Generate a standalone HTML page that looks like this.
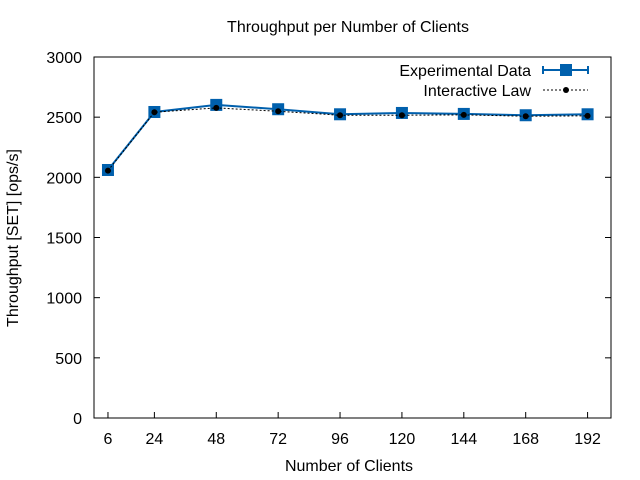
<!DOCTYPE html>
<html><head><meta charset="utf-8"><style>
body{margin:0;background:#fff}
svg{display:block;font-family:"Liberation Sans",sans-serif;font-size:16px}
</style></head><body>
<svg id="chart" width="640" height="480">
<rect width="640" height="480" fill="#fff"/>
<text x="348" y="32" text-anchor="middle">Throughput per Number of Clients</text>
<text x="349" y="471" text-anchor="middle">Number of Clients</text>
<text transform="translate(18,238) rotate(-90)" text-anchor="middle">Throughput [SET] [ops/s]</text>
<g id="axes"></g>
<g id="series"></g>
<g>
<text x="531" y="76" text-anchor="end">Experimental Data</text>
<line x1="543" y1="70" x2="588" y2="70" stroke="#0060ad" stroke-width="2"/>
<line x1="543" y1="66" x2="543" y2="74" stroke="#0060ad" stroke-width="2"/>
<line x1="588" y1="66" x2="588" y2="74" stroke="#0060ad" stroke-width="2"/>
<rect x="560" y="64" width="12" height="12" fill="#0060ad"/>
<text x="531" y="96" text-anchor="end">Interactive Law</text>
<line x1="543" y1="90" x2="588" y2="90" stroke="#000" stroke-dasharray="2,2"/>
<circle cx="566" cy="90" r="3" fill="#000"/>
</g>
</svg>
<script>
const clients = [6, 24, 48, 72, 96, 120, 144, 168, 192];
const experimental = [2061, 2543, 2602, 2566, 2524, 2535, 2527, 2516, 2524];
const interactive = [2056, 2541, 2577, 2549, 2516, 2516, 2519, 2508, 2511];
const yTicks = [0, 500, 1000, 1500, 2000, 2500, 3000];

const L=94, R=611, T=57, B=418;
const xS = v => L - 1.5 + (v - 0) * (R - L) / 200.5;
const yS = v => B - v * (B - T) / 3000;
const NS='http://www.w3.org/2000/svg';
function mk(tag, attrs, parent){const e=document.createElementNS(NS,tag);for(const k in attrs)e.setAttribute(k,attrs[k]);parent.appendChild(e);return e;}
const axes=document.getElementById('axes'), ser=document.getElementById('series');
const frame=mk('rect',{x:L,y:T,width:R-L,height:B-T,fill:'none',stroke:'#000'},axes);


yTicks.forEach(t=>{
  const y=yS(t);
  mk('line',{x1:L,y1:y,x2:L+6,y2:y,stroke:'#000'},axes);
  mk('line',{x1:R,y1:y,x2:R-6,y2:y,stroke:'#000'},axes);
  const tx=mk('text',{x:L-12,y:y+6,'text-anchor':'end'},axes);
  tx.textContent=t;
  
  
});
clients.forEach(c=>{
  const x=xS(c);
  mk('line',{x1:x,y1:B,x2:x,y2:B-6,stroke:'#000'},axes);
  const tx=mk('text',{x:x,y:B+26,'text-anchor':'middle'},axes);
  tx.textContent=c;
  
  
});
const pts=arr=>arr.map((v,i)=>xS(clients[i])+','+yS(v)).join(' ');
const l1=mk('polyline',{points:pts(experimental),fill:'none',stroke:'#0060ad','stroke-width':2},ser);


experimental.forEach((v,i)=>{
  const r=mk('rect',{x:xS(clients[i])-6,y:yS(v)-6,width:12,height:12,fill:'#0060ad'},ser);
  
  
});
const l2=mk('polyline',{points:pts(interactive),fill:'none',stroke:'#000','stroke-width':1,'stroke-dasharray':'2,2'},ser);


interactive.forEach((v,i)=>{
  const c=mk('circle',{cx:xS(clients[i]),cy:yS(v),r:3,fill:'#000'},ser);
  
  
});
</script>
</body></html>
